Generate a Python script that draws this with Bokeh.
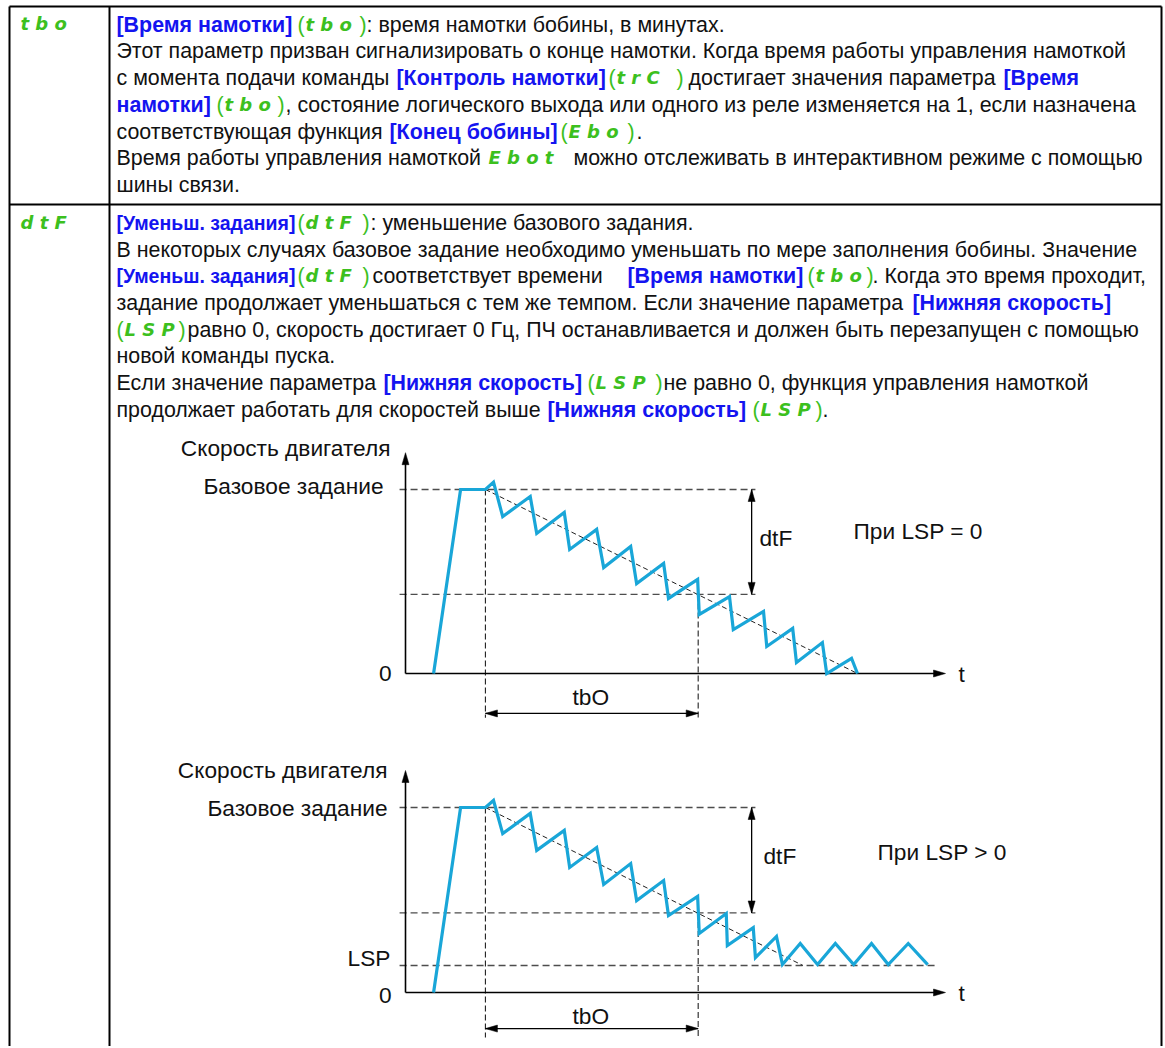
from bokeh.plotting import figure
from bokeh.models import Range1d
from bokeh.embed import file_html
from bokeh.resources import INLINE
from bokeh.core.properties import value

# ---------------- data ----------------
# diagram time axis: 0..100 (arrow tip), speed axis: 0..1 = base reference
T_AXIS_END = 100.0
V_AXIS_END = 1.20
TBO_START = 14.8
TBO_END = 54.2
DTF_LEVEL = 0.43
LSP_LEVEL = 0.146
REF_LINE_T = [-1.1, 64.8]
LSP_LINE_END = 98.5
DTF_ARROW_T = 64.1
DIAG_END_1 = [83.7, 0.0]
DIAG_END_2 = [73.6, 0.146]

wave1_t = [5.2, 10.2, 14.8, 16.3, 18.0, 23.1, 24.3, 29.4, 30.4, 35.4, 36.7, 41.7, 42.8,
           47.8, 48.7, 54.1, 54.4, 60.0, 60.7, 66.3, 66.9, 71.7, 72.4, 77.2, 78.0, 82.6, 83.7]
wave1_v = [0.0, 1.0, 1.0, 1.04, 0.853, 0.962, 0.761, 0.875, 0.674, 0.783, 0.576, 0.690, 0.489,
           0.598, 0.408, 0.511, 0.321, 0.418, 0.239, 0.337, 0.147, 0.245, 0.060, 0.168, 0.0, 0.082, 0.0]

wave2_t = [5.2, 10.2, 14.8, 16.3, 18.0, 23.1, 24.3, 29.4, 30.4, 35.4, 36.7, 41.7, 42.8,
           47.8, 48.7, 54.1, 54.4, 59.4, 59.6, 64.4, 64.8, 68.7, 69.8, 73.1, 76.3, 79.6,
           83.0, 86.3, 89.4, 93.1, 96.7]
wave2_v = [0.0, 1.0, 1.0, 1.038, 0.859, 0.968, 0.768, 0.876, 0.676, 0.784, 0.584, 0.697, 0.497,
           0.605, 0.416, 0.519, 0.319, 0.427, 0.254, 0.351, 0.189, 0.303, 0.151, 0.265, 0.151, 0.265,
           0.151, 0.265, 0.151, 0.265, 0.151]

# text content: (x, y, text)
black_x = [366, 116, 116, 688, 285, 116, 636, 116, 573, 116,
           370, 116, 372, 872, 116, 187, 116, 116, 663, 116, 822]
black_y = [24, 50, 77, 77, 104, 131, 131, 157, 157, 184,
           222, 249, 275, 275, 302, 329, 355, 382, 382, 409, 409]
black_txt = [": время намотки бобины, в минутах.",
             "Этот параметр призван сигнализировать о конце намотки. Когда время работы управления намоткой",
             "с момента подачи команды",
             "достигает значения параметра",
             ", состояние логического выхода или одного из реле изменяется на 1, если назначена",
             "соответствующая функция",
             ".",
             "Время работы управления намоткой",
             "можно отслеживать в интерактивном режиме с помощью",
             "шины связи.",
             ": уменьшение базового задания.",
             "В некоторых случаях базовое задание необходимо уменьшать по мере заполнения бобины. Значение",
             "соответствует времени",
             ". Когда это время проходит,",
             "задание продолжает уменьшаться с тем же темпом. Если значение параметра",
             "равно 0, скорость достигает 0 Гц, ПЧ останавливается и должен быть перезапущен с помощью",
             "новой команды пуска.",
             "Если значение параметра",
             "не равно 0, функция управления намоткой",
             "продолжает работать для скоростей выше",
             "."]

blue_x = [116, 396, 1003, 116, 389, 627, 912, 383, 547]
blue_y = [24, 77, 77, 104, 131, 275, 302, 382, 409]
blue_txt = ["[Время намотки]", "[Контроль намотки]", "[Время", "намотки]", "[Конец бобины]",
            "[Время намотки]", "[Нижняя скорость]", "[Нижняя скорость]", "[Нижняя скорость]"]
# condensed bold segments
blue_c_x = [116, 116]
blue_c_y = [222, 275]
blue_c_txt = ["[Уменьш. задания]", "[Уменьш. задания]"]

# green parameter codes: open-paren x, close-paren x, y, code
code_open = [297, 608, 216, 560, 297, 297, 807, 116, 587, 752]
code_close = [359, 676, 277, 627, 362, 362, 866, 178, 655, 815]
code_y = [24, 77, 104, 131, 222, 275, 275, 329, 382, 409]
code_txt = ["t b o", "t r C", "t b o", "E b o", "d t F", "d t F", "t b o", "L S P", "L S P", "L S P"]
free_code_x = [488, 20, 20]
free_code_y = [157, 23, 222]
free_code_txt = ["E b o t", "t b o", "d t F"]

# ---------------- figure ----------------
W, H = 1163, 1046
X0, Y0 = 0, 0
p = figure(width=W, height=H, x_range=Range1d(X0, X0 + W), y_range=Range1d(Y0 + H, Y0),
           output_backend="svg", toolbar_location=None, min_border=0,
           x_axis_location=None, y_axis_location=None)
p.grid.visible = False
p.outline_line_color = None

# diagram scales (pixel anchors of origin and unit lengths)
T0_PX, PX_T = 405.0, 5.4
V0_PX = {"v1": 673.0, "v2": 992.0}
PX_V = {"v1": 184.0, "v2": 185.0}
p.extra_x_ranges = {"t": Range1d((X0 - T0_PX) / PX_T, (X0 + W - T0_PX) / PX_T)}
p.extra_y_ranges = {k: Range1d((V0_PX[k] - (Y0 + H)) / PX_V[k], (V0_PX[k] - Y0) / PX_V[k]) for k in V0_PX}

# table borders
RB = 1161
p.multi_line(xs=[[9, RB], [9, 9], [109, 109], [RB, RB], [9, RB]],
             ys=[[6, 6], [6, H], [6, H], [6, H], [204, 204]],
             line_color="black", line_width=2)

FONT = value("Liberation Sans")
FS = "21.4px"
p.text(x=black_x, y=black_y, text=black_txt, text_font=FONT, text_font_size=FS,
       text_baseline="middle", text_color="#111111")
p.text(x=blue_x, y=blue_y, text=blue_txt, text_font=FONT, text_font_size=FS,
       text_font_style="bold", text_baseline="middle", text_color="#1414f0")
p.text(x=blue_c_x, y=blue_c_y, text=blue_c_txt, text_font=FONT, text_font_size="19.5px",
       text_font_style="bold", text_baseline="middle", text_color="#1414f0")

GREEN = "#3cc01e"
p.text(x=code_open, y=code_y, text=["("] * len(code_open), text_font=FONT, text_font_size=FS,
       text_baseline="middle", text_color=GREEN)
p.text(x=code_close, y=code_y, text=[")"] * len(code_close), text_font=FONT, text_font_size=FS,
       text_baseline="middle", text_color=GREEN)
p.text(x=[x + 8 for x in code_open], y=code_y, text=code_txt, text_font=value("DejaVu Sans"),
       text_font_size="18px", text_font_style="bold italic", text_baseline="middle", text_color=GREEN)
p.text(x=free_code_x, y=free_code_y, text=free_code_txt, text_font=value("DejaVu Sans"),
       text_font_size="18px", text_font_style="bold italic", text_baseline="middle", text_color=GREEN)


def head(tip_t, tip_v, direction, yr, L=12.0, hw=3.5):
    pv = PX_V[yr]
    if direction == "up":
        xs = [tip_t, tip_t - hw / PX_T, tip_t + hw / PX_T]
        ys = [tip_v, tip_v - L / pv, tip_v - L / pv]
    elif direction == "down":
        xs = [tip_t, tip_t - hw / PX_T, tip_t + hw / PX_T]
        ys = [tip_v, tip_v + L / pv, tip_v + L / pv]
    elif direction == "right":
        xs = [tip_t, tip_t - L / PX_T, tip_t - L / PX_T]
        ys = [tip_v, tip_v + hw / pv, tip_v - hw / pv]
    else:
        xs = [tip_t, tip_t + L / PX_T, tip_t + L / PX_T]
        ys = [tip_v, tip_v + hw / pv, tip_v - hw / pv]
    return xs, ys


def diagram(yr, wt, wv, diag_end, lsp, tbo_v, low_v):
    kw = dict(x_range_name="t", y_range_name=yr)
    # horizontal reference dashed lines
    hx = [REF_LINE_T, REF_LINE_T]
    hy = [[1.0, 1.0], [DTF_LEVEL, DTF_LEVEL]]
    if lsp is not None:
        hx.append([REF_LINE_T[0], LSP_LINE_END])
        hy.append([lsp, lsp])
    p.multi_line(xs=hx, ys=hy, line_color="#4d4d4d", line_width=1.3, line_dash="7 4", **kw)
    # vertical dashed markers
    p.multi_line(xs=[[TBO_START, TBO_START], [TBO_END, TBO_END]],
                 ys=[[1.0, low_v], [DTF_LEVEL, low_v]],
                 line_color="#222222", line_width=1.1, line_dash="6 3", **kw)
    # dtF slope
    p.line(x=[TBO_START, diag_end[0]], y=[1.0, diag_end[1]], line_color="#222222",
           line_width=1.0, line_dash="5 3", **kw)
    # axes
    p.multi_line(xs=[[0, 0], [0, T_AXIS_END - 1]], ys=[[0, V_AXIS_END - 0.03], [0, 0]],
                 line_color="black", line_width=1.6, **kw)
    # dimension arrows
    p.multi_line(xs=[[DTF_ARROW_T, DTF_ARROW_T], [TBO_START, TBO_END]],
                 ys=[[1.0, DTF_LEVEL], [tbo_v, tbo_v]],
                 line_color="black", line_width=1.3, **kw)
    heads = [head(0, V_AXIS_END, "up", yr), head(T_AXIS_END, 0, "right", yr),
             head(DTF_ARROW_T, 1.0, "up", yr), head(DTF_ARROW_T, DTF_LEVEL, "down", yr),
             head(TBO_START, tbo_v, "left", yr), head(TBO_END, tbo_v, "right", yr)]
    p.patches(xs=[h[0] for h in heads], ys=[h[1] for h in heads], fill_color="black",
              line_color="black", line_width=0.5, **kw)
    # speed curve
    p.line(x=wt, y=wv, line_color="#19a6d8", line_width=3.2, line_join="miter", **kw)


diagram("v1", wave1_t, wave1_v, DIAG_END_1, None, -0.217, -0.24)
diagram("v2", wave2_t, wave2_v, DIAG_END_2, LSP_LEVEL, -0.195, -0.243)

# diagram labels (pixel layout)
LFS = "22.7px"
lab_r_x = [390, 383, 391, 387, 387, 391, 390]
lab_r_y = [447, 485, 673, 769, 807, 995, 957]
lab_r_txt = ["Скорость двигателя", "Базовое задание", "0", "Скорость двигателя", "Базовое задание", "0", "LSP"]
p.text(x=lab_r_x, y=lab_r_y, text=lab_r_txt, text_font=FONT, text_font_size=LFS,
       text_baseline="middle", text_align="right", text_color="#111111")
lab_l_x = [759, 853, 958, 572, 763, 877, 958, 572]
lab_l_y = [537, 530, 673, 696, 855, 851, 992, 1015]
lab_l_txt = ["dtF", "При LSP = 0", "t", "tbO", "dtF", "При LSP > 0", "t", "tbO"]
p.text(x=lab_l_x, y=lab_l_y, text=lab_l_txt, text_font=FONT, text_font_size=LFS,
       text_baseline="middle", text_align="left", text_color="#111111")

open("out.html", "w").write(file_html(p, INLINE))
